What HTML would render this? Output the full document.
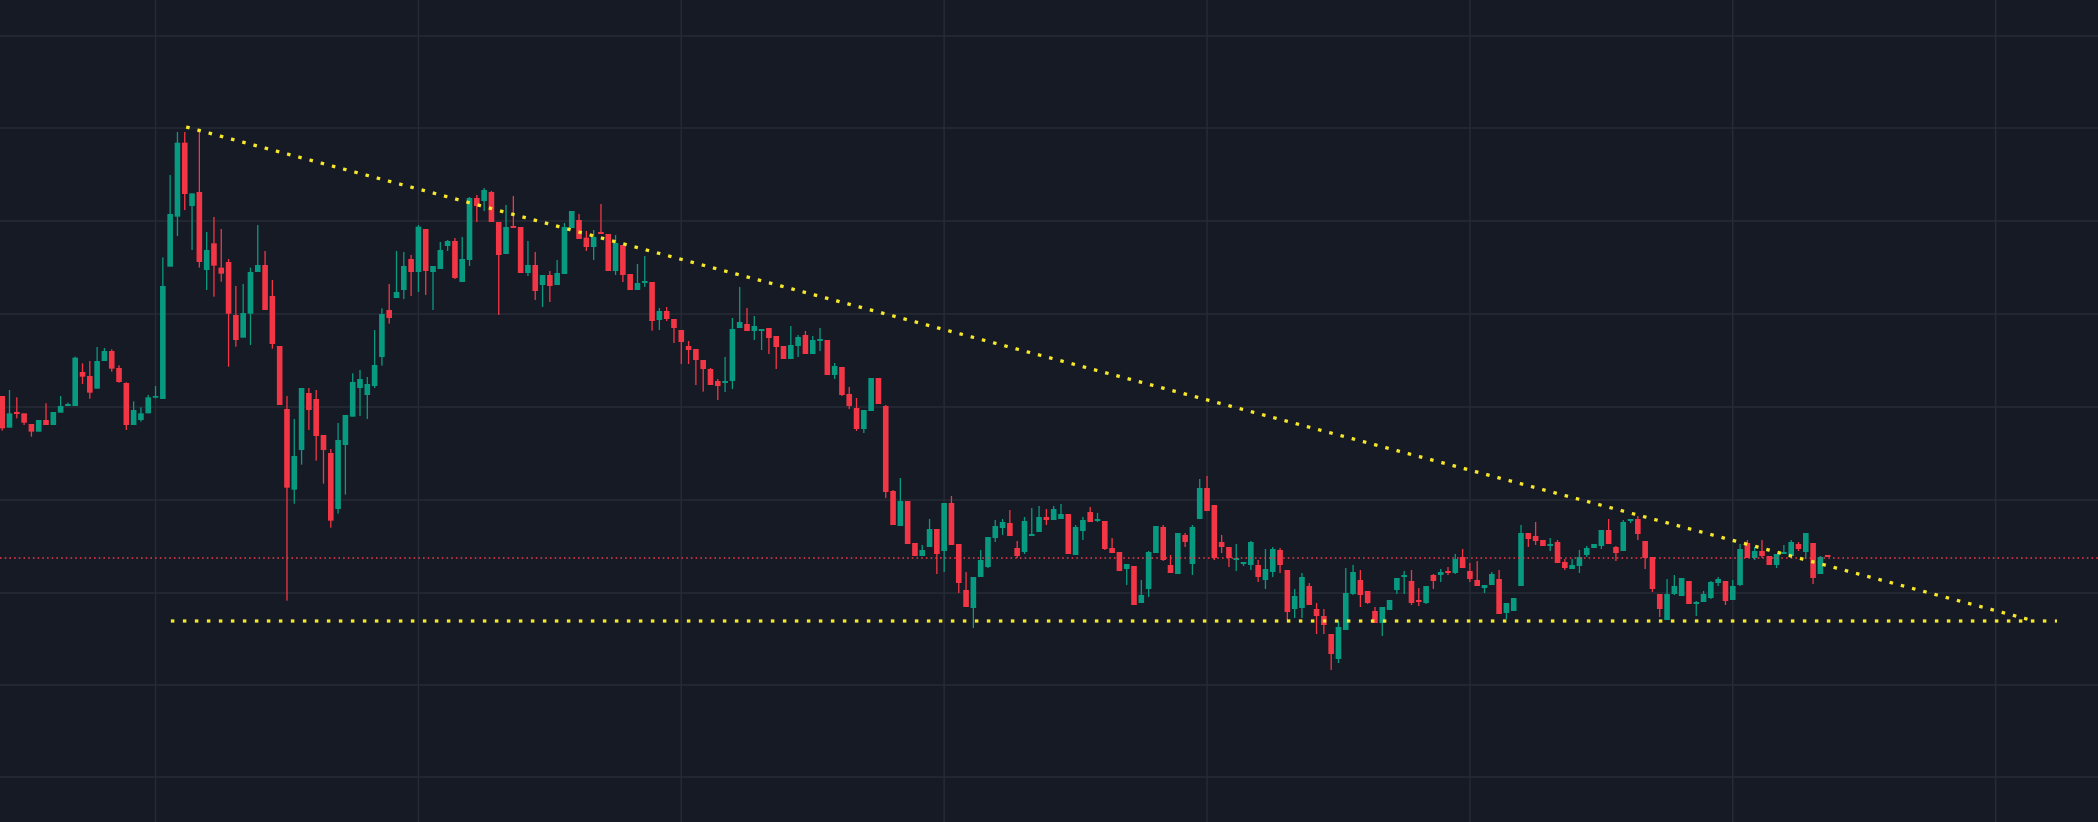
<!DOCTYPE html>
<html><head><meta charset="utf-8"><style>
html,body{margin:0;padding:0;background:#161a25;}
svg{display:block;}
</style></head><body>
<svg id="chart" width="2098" height="822" viewBox="0 0 2098 822" xmlns="http://www.w3.org/2000/svg">
<rect x="0" y="0" width="2098" height="822" fill="#161a25"/>
<g id="grid"></g>
<g id="candles"></g>
<g id="overlays"></g>
</svg>
<script>
const opens=[1512,1417,1464,1460,1428,1405,1440,1425,1462,1482,1482,1584,1572,1534,1617,1647,1596,1551,1425,1440,1460,1507,1503,1900,2050,2272,2082,2124,1890,1970,1897,1914,1755,1687,1759,1884,1905,1812,1662,1473,1231,1350,1521,1503,1395,1341,1173,1365,1450,1536,1515,1542,1629,1770,1806,1830,1923,1884,2013,1884,1893,1962,1977,1854,1920,2106,2097,2124,2034,1938,2022,2019,1881,1905,1845,1875,1845,1878,2016,2040,1987,1959,2004,1998,1887,1965,1878,1830,1851,1854,1740,1767,1743,1710,1662,1653,
1620,1593,1557,1551,1557,1716,1728,1707,1707,1716,1692,1662,1623,1662,1695,1638,1677,1680,1575,1599,1518,1476,1413,1467,1566,1482,1227,1122,1197,1071,1032,1059,1113,1047,1191,1068,930,876,969,999,1086,1116,1131,1056,1044,1092,1104,1149,1140,1143,1158,1035,1107,1164,1137,1137,1056,1044,993,1002,891,933,1041,1119,1005,978,1095,1008,1143,1236,1185,1074,1059,1020,1008,1005,1005,960,984,1050,990,873,876,942,873,852,798,723,810,918,960,927,867,831,870,930,
969,957,900,891,975,975,987,981,1029,987,960,936,945,963,861,867,942,1101,1092,1080,1062,1074,1014,993,1002,1035,1056,1062,1110,1059,1047,1137,1143,1077,1029,918,840,918,912,957,888,894,906,951,957,900,945,1071,1026,1047,1032,1005,1038,1032,1068,1044,1071,978,1035];
const highs=[1512,1530,1508,1460,1428,1440,1490,1464,1512,1492,1630,1610,1617,1659,1656,1652,1604,1553,1496,1478,1515,1542,1928,2175,2304,2304,2120,2310,2004,2049,2013,1923,1842,1848,1897,2025,1947,1860,1662,1512,1443,1536,1536,1530,1395,1353,1431,1455,1580,1590,1569,1710,1775,1848,1947,1944,1935,2025,2013,1902,1974,1980,1986,1989,2109,2115,2136,2127,2034,2085,2112,2019,1977,1944,1875,1887,1920,2031,2067,2058,2007,2010,2088,1998,1995,1965,1878,1908,1932,1854,1776,1779,1743,1710,1677,1653,
1620,1596,1563,1629,1746,1839,1776,1752,1713,1716,1692,1662,1722,1695,1707,1692,1716,1680,1611,1599,1539,1506,1470,1566,1566,1485,1230,1266,1197,1071,1065,1143,1113,1191,1212,1068,984,969,1050,1089,1140,1143,1170,1077,1149,1176,1182,1173,1182,1188,1158,1125,1149,1179,1161,1137,1086,1044,1008,1002,960,1047,1122,1125,1035,1101,1101,1125,1263,1272,1185,1095,1059,1068,1014,1077,1020,1053,1059,1056,990,933,981,951,891,873,798,837,996,1005,990,927,879,879,900,966,
987,990,936,942,978,993,999,1038,1053,1011,1017,945,984,990,891,906,1125,1101,1134,1080,1086,1080,1023,1023,1050,1062,1068,1110,1143,1062,1140,1143,1152,1077,1029,918,963,975,966,957,897,927,957,969,957,960,1068,1080,1059,1080,1032,1038,1065,1080,1074,1101,1071,1032,1035];
const lows=[1408,1417,1445,1425,1390,1405,1425,1425,1462,1482,1482,1548,1504,1534,1617,1585,1552,1410,1425,1435,1460,1505,1503,1900,1992,2070,1950,1897,1830,1810,1855,1600,1660,1687,1665,1884,1770,1654,1485,898,1189,1306,1410,1318,1249,1117,1159,1216,1450,1452,1443,1536,1603,1729,1806,1803,1812,1824,1815,1770,1893,1947,1863,1854,1902,2034,2067,2034,1755,1938,2016,1881,1872,1800,1779,1794,1845,1878,2016,1983,1947,1920,1998,1887,1875,1854,1830,1830,1839,1708,1710,1737,1671,1608,1608,1545,
1525,1545,1500,1524,1533,1716,1707,1680,1650,1638,1593,1623,1623,1629,1638,1638,1647,1575,1563,1512,1473,1407,1401,1467,1488,1206,1125,1122,1068,1032,1032,1059,978,984,1065,921,879,816,969,996,1074,1095,1092,1026,1038,1092,1104,1125,1140,1143,1038,1035,1080,1134,1134,1050,1041,987,945,885,891,909,1041,1017,981,978,1059,975,1143,1167,1020,1041,999,987,1002,990,954,933,969,981,840,846,846,885,798,798,690,711,810,915,879,888,831,792,870,918,
918,885,882,888,933,954,975,978,996,954,942,921,945,858,843,867,942,1059,1065,1062,1047,1011,990,993,981,1029,1056,1053,1068,1017,1047,1131,1080,993,924,849,840,915,912,888,852,894,903,942,885,900,942,1026,1020,1026,1005,996,1038,1032,1047,1023,948,978,1029];
const closes=[1415,1460,1458,1432,1405,1440,1425,1464,1482,1488,1627,1570,1522,1617,1647,1594,1554,1425,1470,1460,1508,1512,1842,2058,2272,2118,2120,1914,1950,1903,1879,1759,1680,1761,1884,1905,1770,1668,1485,1237,1332,1536,1470,1392,1350,1138,1380,1455,1554,1563,1548,1605,1758,1746,1824,1902,1884,2020,1887,1902,1950,1977,1866,1923,2106,2082,2130,2034,1935,2019,2016,1881,1905,1827,1875,1842,1881,2019,2067,1983,1959,1989,1998,1887,1971,1875,1830,1851,1857,1737,1767,1743,1716,1674,1650,1620,
1593,1545,1542,1557,1713,1734,1707,1722,1713,1686,1659,1623,1665,1689,1638,1680,1683,1575,1602,1515,1482,1413,1470,1566,1488,1224,1125,1197,1068,1032,1050,1113,1038,1191,1065,951,879,969,1020,1089,1122,1134,1092,1032,1137,1098,1149,1140,1173,1158,1038,1119,1140,1134,1143,1053,1041,987,1008,885,915,1044,1122,1020,981,1101,1074,1119,1236,1167,1026,1059,1026,1026,1014,1074,969,993,1053,1005,864,912,969,885,852,825,738,819,921,984,915,891,831,879,900,966,
975,891,894,942,957,984,981,1023,996,963,942,945,978,858,891,906,1101,1083,1077,1062,1068,1011,996,1005,1029,1056,1068,1110,1068,1041,1134,1143,1098,1026,933,873,918,942,966,888,894,918,954,963,897,942,1053,1026,1047,1032,1005,1038,1044,1074,1053,1101,966,1029,1029];
const gridPrices=[2592,2316,2037,1758,1479,1200,921,645,369];
const timeTicks=[21,57,93,129,165,201,237,273];
const resistanceStart=[25.2,2319];
const resistanceEnd=[278.3,837];
const supportLevel=837;
const supportRange=[23.1,281.4];
const lastPrice=1026;

const NS='http://www.w3.org/2000/svg';
function xs(i){return 2.2+i*7.302;}
function ys(p){return 900-p/3;}
function mk(tag,attrs,parent){const e=document.createElementNS(NS,tag);for(const k in attrs)e.setAttribute(k,attrs[k]);parent.appendChild(e);return e;}
const grid=document.getElementById('grid');
gridPrices.forEach(p=>{
  const l=mk('line',{x1:0,x2:2098,y1:ys(p),y2:ys(p),stroke:'#262a35','stroke-width':1.5},grid);
  
  
});
timeTicks.forEach(t=>{
  const l=mk('line',{x1:xs(t),x2:xs(t),y1:0,y2:822,stroke:'#262a35','stroke-width':1.5},grid);
  
  
});
const cg=document.getElementById('candles');
for(let i=0;i<opens.length;i++){
  const o=opens[i],c=closes[i],h=highs[i],lo=lows[i];
  const col=c>=o?'#089981':'#f23645';
  const g=mk('g',{},cg);
  
  
  const x=xs(i);
  mk('line',{x1:x,x2:x,y1:ys(h),y2:ys(lo),stroke:col,'stroke-width':1.3},g);
  const top=ys(Math.max(o,c)),bot=ys(Math.min(o,c));
  mk('rect',{x:x-2.8,y:top,width:5.6,height:Math.max(1.2,bot-top),fill:col},g);
}
const ov=document.getElementById('overlays');
const lp=mk('line',{x1:0,x2:2098,y1:ys(lastPrice),y2:ys(lastPrice),stroke:'#f23645','stroke-width':1.4,'stroke-dasharray':'1.6 3.1'},ov);


const rl=mk('line',{x1:xs(resistanceStart[0]),y1:ys(resistanceStart[1]),x2:xs(resistanceEnd[0]),y2:ys(resistanceEnd[1]),stroke:'#f7e82a','stroke-width':3.3,'stroke-dasharray':'3.5 8.1'},ov);


const sl=mk('line',{x1:xs(supportRange[0]),y1:ys(supportLevel),x2:xs(supportRange[1]),y2:ys(supportLevel),stroke:'#f7e82a','stroke-width':3.3,'stroke-dasharray':'3.5 8.5'},ov);


</script>
</body></html>
